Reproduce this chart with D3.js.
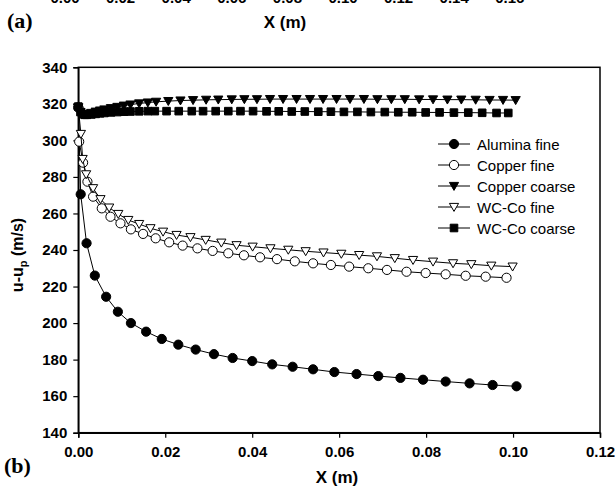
<!DOCTYPE html>
<html>
<head>
<meta charset="utf-8">
<script src="https://cdn.jsdelivr.net/npm/d3@7"></script>
<style>
body { margin: 0; background: #fff; }
svg text { font-family: "Liberation Sans", Arial, sans-serif; }
</style>
</head>
<body>
<script>
// values
const xTicks = [0, 0.02, 0.04, 0.06, 0.08, 0.10, 0.12]
const yTicks = [140, 160, 180, 200, 220, 240, 260, 280, 300, 320, 340]
const topPanelTicks = ["0.00", "0.02", "0.04", "0.06", "0.08", "0.10", "0.12", "0.14", "0.16"]

const aluminaX = [0, 0.00055, 0.0019, 0.0038, 0.0064, 0.0091, 0.0121, 0.0156, 0.0192, 0.023, 0.027, 0.0312, 0.0355, 0.04, 0.0446, 0.0493, 0.054, 0.0589, 0.064, 0.069, 0.0741, 0.0793, 0.0845, 0.09, 0.0953, 0.1008]
const aluminaY = [318, 270.5, 243.7, 226, 214.4, 206.2, 200, 195.3, 191.3, 188.2, 185.5, 183, 180.9, 179.2, 177.4, 176.1, 174.7, 173.2, 172.1, 171, 170, 169, 168, 167, 166.1, 165.4]

const copperFineX = [0, 0.0002, 0.0011, 0.0021, 0.0034, 0.0054, 0.0074, 0.0097, 0.0121, 0.0149, 0.0178, 0.0209, 0.024, 0.0274, 0.0309, 0.0345, 0.0381, 0.0418, 0.0457, 0.0498, 0.054, 0.0581, 0.0623, 0.0667, 0.071, 0.0755, 0.0799, 0.0845, 0.0891, 0.0937, 0.0985]
const copperFineY = [318, 299.3, 287.8, 277.4, 269.2, 262.8, 258.2, 254.6, 251.3, 248.8, 246.4, 244.2, 242.4, 240.9, 239.5, 238.2, 237.1, 236, 235, 233.8, 232.7, 231.8, 230.9, 230, 229.1, 228.1, 227.4, 226.7, 225.9, 225.4, 224.8]

const copperCoarseX = [0, 0.0005, 0.001, 0.0015, 0.002, 0.003, 0.004, 0.005, 0.006, 0.0075, 0.009, 0.0105, 0.012, 0.014, 0.016, 0.0179, 0.0207, 0.0235, 0.0264, 0.0294, 0.0322, 0.0353, 0.0382, 0.0411, 0.0441, 0.0471, 0.0502, 0.0533, 0.0563, 0.0594, 0.0625, 0.0657, 0.0688, 0.072, 0.0751, 0.0784, 0.0816, 0.0849, 0.0881, 0.0914, 0.0946, 0.0977, 0.1006]
const copperCoarseY = [318, 315.5, 314.5, 314.3, 314.5, 315, 315.7, 316.3, 316.9, 317.6, 318.3, 319, 319.6, 320.2, 320.7, 321.1, 321.5, 321.8, 322, 322.2, 322.3, 322.4, 322.5, 322.5, 322.6, 322.6, 322.6, 322.6, 322.6, 322.6, 322.6, 322.6, 322.5, 322.5, 322.5, 322.4, 322.4, 322.3, 322.3, 322.2, 322.1, 322.1, 322]

const wcFineX = [0, 0.0006, 0.001, 0.0018, 0.0034, 0.0051, 0.0071, 0.0092, 0.0115, 0.014, 0.0166, 0.0195, 0.0226, 0.0258, 0.0293, 0.0329, 0.0364, 0.0401, 0.0442, 0.0483, 0.0523, 0.0564, 0.0605, 0.0646, 0.0687, 0.0728, 0.077, 0.0816, 0.0862, 0.0904, 0.095, 0.0999]
const wcFineY = [318, 303.5, 289.8, 281.4, 273.8, 267.8, 263.2, 259.7, 256.4, 254.2, 251.9, 250, 248.2, 247, 245.5, 244, 242.6, 241.8, 240.9, 240.1, 239.3, 238.6, 237.9, 237.2, 236.5, 235.5, 234.5, 233.6, 232.7, 232.2, 231.4, 230.9]

const wcCoarseX = [0, 0.0005, 0.001, 0.0015, 0.002, 0.003, 0.004, 0.005, 0.006, 0.0075, 0.009, 0.0105, 0.012, 0.014, 0.016, 0.0176, 0.0203, 0.0231, 0.0261, 0.0287, 0.0316, 0.0345, 0.0373, 0.0402, 0.0433, 0.0461, 0.0491, 0.0521, 0.0552, 0.0581, 0.0611, 0.0642, 0.0673, 0.0705, 0.0736, 0.0768, 0.0799, 0.0831, 0.0864, 0.0897, 0.0929, 0.0962, 0.0989]
const wcCoarseY = [318.5, 315.5, 314.3, 314, 314, 314.2, 314.5, 314.8, 315, 315.3, 315.5, 315.7, 315.8, 315.9, 316, 316, 316, 316, 316, 316, 316, 316, 316, 316, 315.9, 315.9, 315.8, 315.8, 315.7, 315.7, 315.6, 315.6, 315.5, 315.5, 315.4, 315.4, 315.3, 315.3, 315.2, 315.2, 315.1, 315, 315]

const seriesNames = ["Alumina fine", "Copper fine", "Copper coarse", "WC-Co fine", "WC-Co coarse"]
const seriesX = [aluminaX, copperFineX, copperCoarseX, wcFineX, wcCoarseX]
const seriesY = [aluminaY, copperFineY, copperCoarseY, wcFineY, wcCoarseY]
const markers = ["circle", "circle", "tri", "tri", "square"]
const filled = [true, false, true, false, true]

const w = 616
const h = 487
const plotLeft = 78.3, plotRight = 600, plotTop = 67.3, plotBottom = 432.7

let svg = d3.select("body")
            .append("svg")
            .attr("width", w)
            .attr("height", h)

let x = d3.scaleLinear().domain([0, 0.12]).range([plotLeft, plotRight])
let y = d3.scaleLinear().domain([140, 340]).range([plotBottom, plotTop])

//marker shapes
function markerPath(type) {
    if (type == "circle") return d3.symbol().type(d3.symbolCircle).size(Math.PI * 4.6 * 4.6)()
    if (type == "square") return "M-3.8,-3.8H3.8V3.8H-3.8Z"
    return "M-4.6,-3.6L4.6,-3.6L0,4.4Z"
}

//remains of panel (a) at the top
svg.selectAll(".toptick")
    .data(topPanelTicks)
    .enter()
    .append("text")
    .attr("class", "toptick")
    .attr("x", function(d, i) {return 65 + i * 55.6})
    .attr("y", 3)
    .attr("text-anchor", "middle")
    .attr("font-size", "15px")
    .attr("font-weight", "bold")
    .text(function(d) {return d})

svg.append("text")
    .attr("x", 7).attr("y", 28)
    .style("font-family", "'Liberation Serif', serif")
    .attr("font-size", "22px").attr("font-weight", "bold")
    .text("(a)")

svg.append("text")
    .attr("x", 285).attr("y", 28)
    .attr("text-anchor", "middle")
    .attr("font-size", "17px").attr("font-weight", "bold")
    .text("X (m)")

//frame
svg.append("rect")
    .attr("x", plotLeft).attr("y", plotTop)
    .attr("width", plotRight - plotLeft).attr("height", plotBottom - plotTop)
    .attr("fill", "none")
    .attr("stroke", "black")
    .attr("stroke-width", 1.5)

//axes
let xAxis = svg.append("g")
    .attr("transform", "translate(0," + plotBottom + ")")
    .call(d3.axisBottom(x).tickValues(xTicks).tickSize(5).tickPadding(9)
        .tickFormat(d3.format(".2f")))

let yAxis = svg.append("g")
    .attr("transform", "translate(" + plotLeft + ",0)")
    .call(d3.axisLeft(y).tickValues(yTicks).tickSize(5).tickPadding(6)
        .tickFormat(d3.format("d")))

svg.selectAll(".domain").attr("stroke-width", 1.5)
svg.selectAll(".tick line").attr("stroke-width", 1.2)
svg.selectAll(".tick text")
    .attr("font-size", "15px")
    .attr("font-weight", "bold")
    .attr("fill", "black")
    .style("font-family", "'Liberation Sans', Arial, sans-serif")

//axis titles
svg.append("text")
    .attr("x", 337).attr("y", 483)
    .attr("text-anchor", "middle")
    .attr("font-size", "17px").attr("font-weight", "bold")
    .text("X (m)")

let yTitle = svg.append("text")
    .attr("transform", "translate(23,255) rotate(-90)")
    .attr("text-anchor", "middle")
    .attr("font-size", "16px").attr("font-weight", "bold")
yTitle.append("tspan").text("u-u")
yTitle.append("tspan").attr("font-size", "11px").attr("dy", 4).text("p")
yTitle.append("tspan").attr("dy", -4).text(" (m/s)")

svg.append("text")
    .attr("x", 4).attr("y", 473)
    .style("font-family", "'Liberation Serif', serif")
    .attr("font-size", "22px").attr("font-weight", "bold")
    .text("(b)")

//series
let line = d3.line()
    .x(function(d) {return x(d[0])})
    .y(function(d) {return y(d[1])})

seriesNames.forEach(function(name, s) {
    let pts = seriesX[s].map(function(v, i) {return [v, seriesY[s][i]]})
    let g = svg.append("g")
    g.append("path")
        .datum(pts)
        .attr("d", line)
        .attr("fill", "none")
        .attr("stroke", "black")
        .attr("stroke-width", 1)
    g.selectAll("path.mk")
        .data(pts)
        .enter()
        .append("path")
        .attr("class", "mk")
        .attr("d", markerPath(markers[s]))
        .attr("transform", function(d) {return "translate(" + x(d[0]) + "," + y(d[1]) + ")"})
        .attr("fill", filled[s] ? "black" : "white")
        .attr("stroke", "black")
        .attr("stroke-width", 1)
})

//legend
let legend = svg.selectAll(".legend")
    .data(seriesNames)
    .enter()
    .append("g")
    .attr("class", "legend")
    .attr("transform", function(d, i) {return "translate(0," + (144 + i * 21) + ")"})

legend.append("line")
    .attr("x1", 438).attr("x2", 470)
    .attr("stroke", "black").attr("stroke-width", 1)

legend.append("path")
    .attr("d", function(d, i) {return markerPath(markers[i])})
    .attr("transform", "translate(454,0)")
    .attr("fill", function(d, i) {return filled[i] ? "black" : "white"})
    .attr("stroke", "black")

legend.append("text")
    .attr("x", 477).attr("y", 5.5)
    .attr("font-size", "15px")
    .text(function(d) {return d})
</script>
</body>
</html>
